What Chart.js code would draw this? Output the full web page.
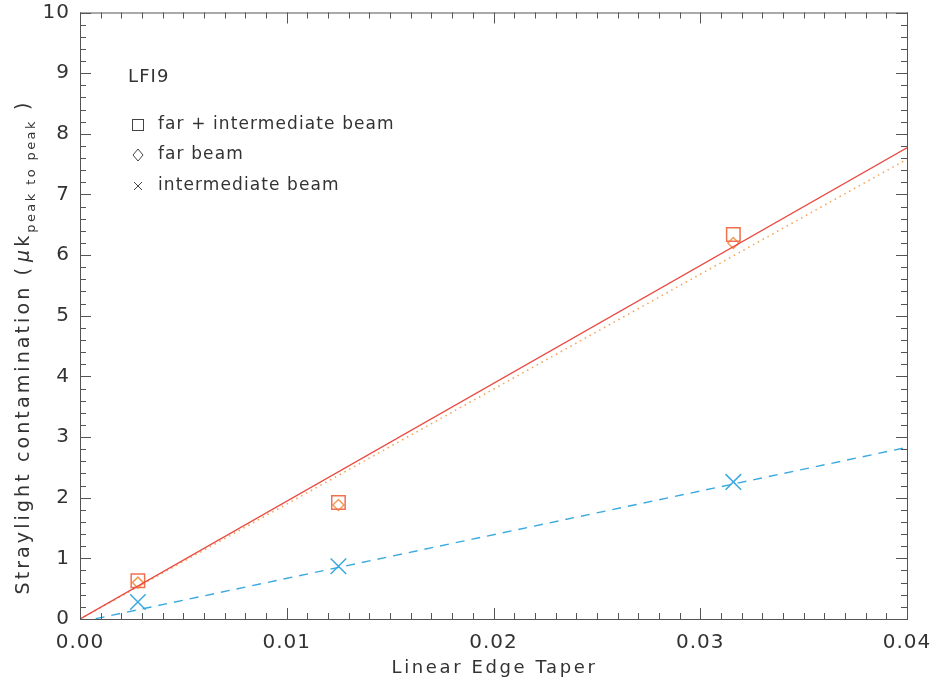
<!DOCTYPE html>
<html>
<head>
<meta charset="utf-8">
<script src="https://cdn.jsdelivr.net/npm/chart.js@4.4.1/dist/chart.umd.min.js"></script>
<style>
html,body{margin:0;padding:0;background:#fff;}
#wrap{width:932px;height:685px;}
</style>
</head>
<body>
<div id="wrap"><canvas id="c" width="932" height="685"></canvas></div>
<script>
// ---- data ----
const taper = [0.0028, 0.0125, 0.0316];
const farPlusIntermediate = [0.63, 1.92, 6.34];
const farBeam = [0.60, 1.88, 6.20];
const intermediateBeam = [0.28, 0.87, 2.26];
const fitX = [0.0, 0.04];
const fitFarPlusIntermediate = [0.0, 7.77];
const fitFar = [0.0, 7.58];
const fitIntermediate = [-0.05, 2.83];
const xTicks = [0.00, 0.01, 0.02, 0.03, 0.04];
const yTicks = [0, 1, 2, 3, 4, 5, 6, 7, 8, 9, 10];
const legendTitle = 'LFI9';
const legendLabels = ['far + intermediate beam', 'far beam', 'intermediate beam'];
const xTitle = 'Linear Edge Taper';

const FONT = '"DejaVu Sans", sans-serif';
const TXT = '#333';
const pts = (xs, ys) => xs.map((x, i) => ({x: x, y: ys[i]}));

const spacing = {
  id: 'spacing',
  beforeDraw(chart) { chart.ctx.letterSpacing = '1px'; }
};

const frameTicks = {
  id: 'frameTicks',
  afterDraw(chart) {
    const ctx = chart.ctx, a = chart.chartArea;
    const xs = chart.scales.x, ys = chart.scales.y;
    ctx.save();
    ctx.strokeStyle = '#555';
    ctx.lineWidth = 1;
    ctx.strokeRect(a.left + 0.5, a.top + 0.5, a.right - a.left, a.bottom - a.top);
    ctx.beginPath();
    for (let i = 0; i <= 40; i++) {
      const v = i * 0.001;
      const px = Math.round(xs.getPixelForValue(v)) + 0.5;
      const L = (i % 10 === 0) ? 11 : 6;
      ctx.moveTo(px, a.bottom); ctx.lineTo(px, a.bottom - L);
      ctx.moveTo(px, a.top); ctx.lineTo(px, a.top + L);
    }
    for (let i = 0; i <= 50; i++) {
      const v = i * 0.2;
      const py = Math.round(ys.getPixelForValue(v)) + 0.5;
      const L = (i % 5 === 0) ? 11 : 6;
      ctx.moveTo(a.left, py); ctx.lineTo(a.left + L, py);
      ctx.moveTo(a.right, py); ctx.lineTo(a.right - L, py);
    }
    ctx.stroke();

    // x title
    ctx.fillStyle = TXT;
    ctx.letterSpacing = '2.6px';
    ctx.font = '18px ' + FONT;
    ctx.textAlign = 'center';
    ctx.textBaseline = 'alphabetic';
    ctx.fillText(xTitle, (a.left + a.right) / 2 + 1, 673);

    // legend block
    ctx.letterSpacing = '1.1px';
    ctx.textBaseline = 'middle';
    ctx.textAlign = 'left';
    ctx.font = '18px ' + FONT;
    ctx.fillText(legendTitle, 128, 77);
    ctx.font = '17px ' + FONT;
    const rows = [125, 155, 186];
    const sx = 138;
    ctx.strokeStyle = '#444';
    ctx.lineWidth = 1;
    ctx.strokeRect(sx - 5.5, rows[0] - 5.5, 11, 11);
    ctx.beginPath();
    ctx.moveTo(sx, rows[1] - 6); ctx.lineTo(sx + 5, rows[1]);
    ctx.lineTo(sx, rows[1] + 6); ctx.lineTo(sx - 5, rows[1]); ctx.closePath();
    ctx.stroke();
    ctx.beginPath();
    ctx.moveTo(sx - 4, rows[2] - 4); ctx.lineTo(sx + 4, rows[2] + 4);
    ctx.moveTo(sx + 4, rows[2] - 4); ctx.lineTo(sx - 4, rows[2] + 4);
    ctx.stroke();
    legendLabels.forEach((t, i) => ctx.fillText(t, 158, rows[i]));

    // y axis title with subscript
    ctx.translate(23, 347);
    ctx.rotate(-Math.PI / 2);
    const mainFont = '19px ' + FONT;
    const itFont = 'italic 19px ' + FONT;
    const subFont = '13px ' + FONT;
    const mainSp = '3.1px', subSp = '2.4px';
    const p1 = 'Straylight contamination (', mu = 'μ', k = 'k', sub = 'peak to peak', p3 = ' )';
    ctx.letterSpacing = mainSp;
    ctx.font = mainFont;
    const w1 = ctx.measureText(p1).width + 3;
    ctx.font = itFont;
    const wmu = ctx.measureText(mu).width;
    ctx.font = mainFont;
    const wk = ctx.measureText(k).width;
    const w3 = ctx.measureText(p3).width;
    ctx.letterSpacing = subSp;
    ctx.font = subFont;
    const ws = ctx.measureText(sub).width;
    let x = -(w1 + wmu + wk + ws + w3) / 2;
    ctx.textAlign = 'left';
    ctx.textBaseline = 'alphabetic';
    ctx.letterSpacing = mainSp;
    ctx.font = mainFont; ctx.fillText(p1, x, 6); x += w1;
    ctx.font = itFont; ctx.fillText(mu, x, 6); x += wmu;
    ctx.font = mainFont; ctx.fillText(k, x, 6); x += wk;
    ctx.letterSpacing = subSp;
    ctx.font = subFont; ctx.fillText(sub, x, 12); x += ws;
    ctx.letterSpacing = mainSp;
    ctx.font = mainFont; ctx.fillText(p3, x, 6);
    ctx.restore();
  }
};

const RED = '#e9483f', SQ = '#f0704f', DIA = '#f39a55', ORG = '#f5a55a', BLUE = '#3aa9e2';

new Chart(document.getElementById('c'), {
  type: 'scatter',
  data: {
    datasets: [
      {label: 'fit far+intermediate', data: pts(fitX, fitFarPlusIntermediate), showLine: true,
       borderColor: RED, borderWidth: 1.4, pointRadius: 0, fill: false},
      {label: 'fit far', data: pts(fitX, fitFar), showLine: true,
       borderColor: ORG, borderWidth: 1.6, borderDash: [1.5, 4], pointRadius: 0, fill: false},
      {label: 'fit intermediate', data: pts(fitX, fitIntermediate), showLine: true,
       borderColor: BLUE, borderWidth: 1.4, borderDash: [9, 7], pointRadius: 0, fill: false},
      {label: legendLabels[0], data: pts(taper, farPlusIntermediate), showLine: false,
       pointStyle: 'rect', pointRadius: 9.5, borderColor: SQ, borderWidth: 1.5,
       backgroundColor: 'rgba(0,0,0,0)'},
      {label: legendLabels[1], data: pts(taper, farBeam), showLine: false,
       pointStyle: 'rectRot', pointRadius: 5.5, borderColor: DIA, borderWidth: 1.5,
       backgroundColor: 'rgba(0,0,0,0)'},
      {label: legendLabels[2], data: pts(taper, intermediateBeam), showLine: false,
       pointStyle: 'crossRot', pointRadius: 11, borderColor: BLUE, borderWidth: 1.5}
    ]
  },
  options: {
    responsive: false,
    animation: false,
    layout: {padding: {left: 0, right: 25, top: 8, bottom: 0}},
    plugins: {legend: {display: false}, tooltip: {enabled: false}},
    scales: {
      x: {
        type: 'linear', min: 0, max: 0.04,
        afterBuildTicks: s => { s.ticks = xTicks.map(v => ({value: v})); },
        afterFit: s => { s.height = 66; s.paddingLeft = 0; s.paddingRight = 0; },
        ticks: {autoSkip: false, maxRotation: 0, color: TXT, padding: 12,
                font: {family: FONT, size: 20}, callback: v => Number(v).toFixed(2)},
        grid: {display: false, drawTicks: false},
        border: {display: false},
        title: {display: false}
      },
      y: {
        type: 'linear', min: 0, max: 10,
        afterBuildTicks: s => { s.ticks = yTicks.map(v => ({value: v})); },
        afterFit: s => { s.width = 80; s.paddingTop = 0; s.paddingBottom = 0; },
        ticks: {autoSkip: false, color: TXT, padding: 10,
                font: {family: FONT, size: 20}},
        grid: {display: false, drawTicks: false},
        border: {display: false},
        title: {display: false}
      }
    }
  },
  plugins: [spacing, frameTicks]
});
</script>
</body>
</html>
